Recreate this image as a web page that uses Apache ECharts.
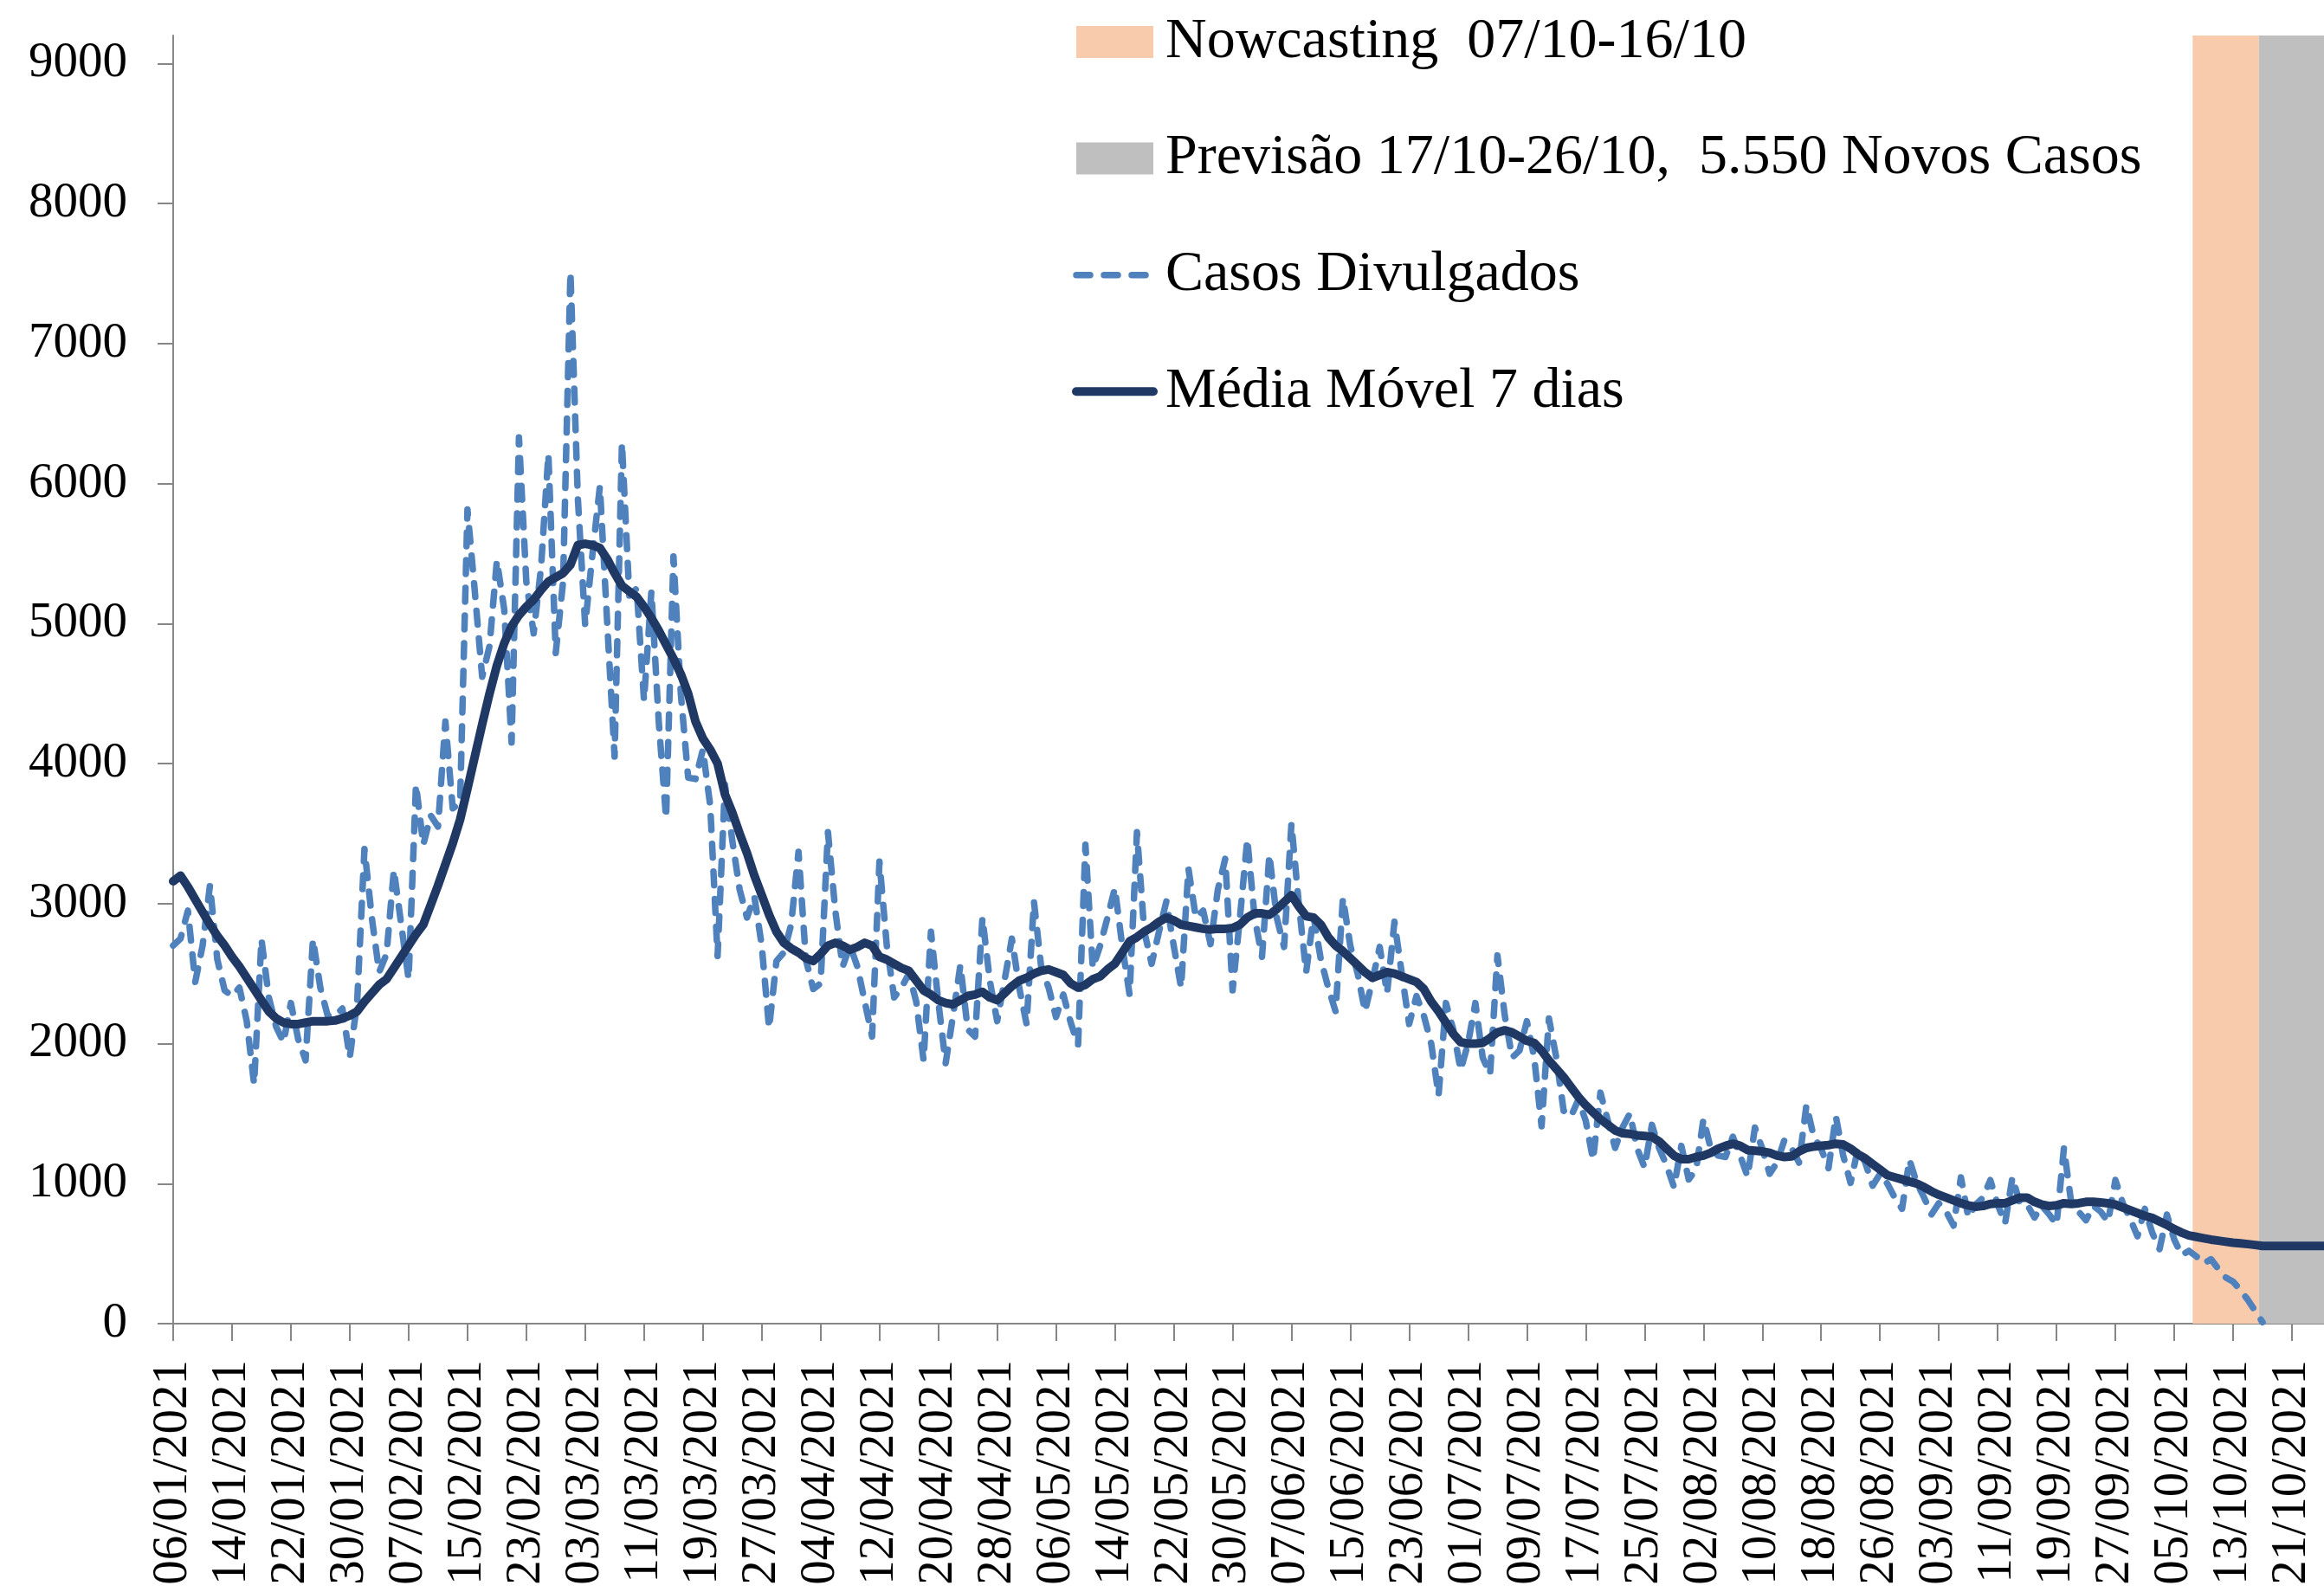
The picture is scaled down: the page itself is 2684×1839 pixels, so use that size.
<!DOCTYPE html>
<html>
<head>
<meta charset="utf-8">
<script src="https://cdn.jsdelivr.net/npm/echarts@6/dist/echarts.min.js"></script>
<style>
  html, body { margin: 0; padding: 0; background: #ffffff; overflow: hidden; }
  /* the plot runs on a little past the right edge of the window */
  #chart { width: 2698px; height: 1839px; }
</style>
</head>
<body>
<div id="chart"></div>
<script>
// Tick labels of the date axis, one every 8 days starting 06/01/2021 (day index 0)
const tickLabels = [
  '06/01/2021', '14/01/2021', '22/01/2021', '30/01/2021', '07/02/2021', '15/02/2021',
  '23/02/2021', '03/03/2021', '11/03/2021', '19/03/2021', '27/03/2021', '04/04/2021',
  '12/04/2021', '20/04/2021', '28/04/2021', '06/05/2021', '14/05/2021', '22/05/2021',
  '30/05/2021', '07/06/2021', '15/06/2021', '23/06/2021', '01/07/2021', '09/07/2021',
  '17/07/2021', '25/07/2021', '02/08/2021', '10/08/2021', '18/08/2021', '26/08/2021',
  '03/09/2021', '11/09/2021', '19/09/2021', '27/09/2021', '05/10/2021', '13/10/2021',
  '21/10/2021'
];

const yTicks = [0, 1000, 2000, 3000, 4000, 5000, 6000, 7000, 8000, 9000];

// Daily reported cases, 06/01/2021 .. 17/10/2021 (the last days are nowcast)
const casosDivulgados = [
  2700, 2750, 2950, 2440, 2700, 3130, 2600, 2380, 2340, 2400,
  2160, 1710, 2745, 2330, 2120, 2010, 2290, 2030, 1880, 2745,
  2400, 2200, 2200, 2250, 1900, 2290, 3390, 2900, 2510, 2640,
  3240, 2850, 2460, 3850, 3420, 3630, 3550, 4300, 3680, 3720,
  5815, 5230, 4620, 4840, 5450, 5100, 4150, 6330, 5300, 4930,
  5400, 6210, 4790, 5300, 7510, 5900, 4990, 5500, 5980, 5000,
  4050, 6290, 5200, 5250, 4450, 5230, 4300, 3610, 5480, 4500,
  3900, 3890, 4100, 3700, 2625, 3850, 3450, 3100, 2900, 3050,
  2700, 2110, 2590, 2650, 2850, 3370, 2600, 2390, 2430, 3510,
  2950, 2550, 2700, 2550, 2300, 2050, 3300, 2700, 2330, 2400,
  2500, 2300, 1880, 2800, 2300, 1860, 2200, 2560, 2100, 2050,
  2900, 2450, 2160, 2450, 2750, 2400, 2140, 3015, 2540, 2400,
  2190, 2350, 2150, 1990, 3420, 2540, 2700, 2900, 3110, 2700,
  2350, 3510, 2800, 2570, 2800, 3015, 2700, 2400, 3250, 2900,
  2950, 2710, 3100, 3320, 2380, 2900, 3460, 2900, 2620, 3350,
  2900, 2690, 3570, 3000, 2510, 2910, 2600, 2400, 2230, 3040,
  2700, 2500, 2230, 2450, 2690, 2360, 2870, 2500, 2140, 2340,
  2200, 2000, 1630, 2290, 2100, 1810, 2000, 2290, 1900, 1780,
  2630, 2200, 1900, 1950, 2160, 1900, 1410, 2180, 1900, 1520,
  1480, 1600, 1450, 1170, 1650, 1450, 1255, 1400, 1500, 1250,
  1115, 1420, 1250, 1130, 975, 1270, 1030, 1100, 1460, 1250,
  1200, 1190, 1335, 1200, 1050, 1400, 1250, 1070, 1150, 1310,
  1250, 1150, 1560, 1335, 1250, 1110, 1480, 1200, 1005, 1250,
  1150, 985, 1070, 1000, 900, 820, 1170, 1005, 900, 780,
  860, 800, 700, 1045, 760, 850, 900, 1025, 850, 715,
  1045, 860, 850, 758, 841, 780, 707, 1253, 861, 800,
  738, 841, 800, 727, 1026, 861, 750, 624, 820, 650,
  532, 779, 600, 490, 520, 480, 430, 460, 390, 330,
  300, 240, 170, 90, 10
];

// 7-day moving average, 06/01/2021 .. 26/10/2021 (last ten days: forecast of 5.550 cases)
const mediaMovel7 = [
  3160, 3200, 3120, 3030, 2940, 2850, 2770, 2700, 2620, 2550,
  2470, 2390, 2310, 2230, 2180, 2150, 2140, 2140, 2150, 2160,
  2160, 2160, 2165, 2180, 2200, 2230, 2300, 2360, 2420, 2460,
  2540, 2620, 2700, 2780, 2850, 2990, 3130, 3280, 3430, 3600,
  3820, 4050, 4280, 4500, 4700, 4860, 4980, 5060, 5120, 5170,
  5240, 5300, 5330, 5360, 5420, 5560, 5570, 5560, 5540, 5460,
  5360, 5270, 5230, 5190, 5120, 5040, 4950, 4850, 4750, 4640,
  4500, 4300, 4180, 4100, 4000, 3780, 3650, 3500, 3360, 3200,
  3060, 2920, 2800, 2720, 2680, 2650, 2610, 2590, 2640, 2700,
  2720, 2700, 2670, 2690, 2720, 2700, 2620, 2600, 2570, 2540,
  2520, 2450, 2380, 2350, 2310, 2290, 2280, 2310, 2340, 2350,
  2370, 2330, 2310, 2360, 2410, 2450, 2470, 2500, 2520, 2530,
  2510, 2490, 2430, 2400, 2420, 2460, 2480, 2530, 2570, 2650,
  2730, 2760, 2800, 2830, 2870, 2900, 2880, 2850, 2840, 2830,
  2820, 2815, 2820, 2820, 2825, 2850, 2900, 2930, 2930, 2920,
  2960, 3010, 3060, 2980, 2910, 2900, 2850, 2760, 2700, 2660,
  2610, 2560, 2510, 2470, 2490, 2510, 2500, 2480, 2460, 2440,
  2390, 2300, 2230, 2150, 2070, 2010, 2000, 2000, 2005, 2040,
  2080, 2095, 2080, 2050, 2020, 2005, 1950, 1880, 1820, 1760,
  1690, 1620, 1560, 1510, 1460, 1420, 1380, 1360, 1355, 1345,
  1340, 1335, 1300, 1250, 1200, 1175, 1175, 1190, 1200, 1220,
  1250, 1270, 1285, 1270, 1240, 1235, 1230, 1220, 1200, 1190,
  1195, 1230, 1255, 1265, 1270, 1275, 1285, 1280, 1250, 1210,
  1180, 1140, 1100, 1060, 1045, 1030, 1015, 1000, 975, 945,
  920, 900, 880, 860, 845, 835, 840, 855, 860, 860,
  880, 900, 900, 870, 850, 840, 845, 860, 855, 860,
  870, 870, 865, 860, 850, 830, 810, 790, 770, 755,
  730, 705, 675, 650, 630, 620, 610, 600, 593, 585,
  578, 573, 568, 562, 555, 555, 555, 555, 555, 555,
  555, 555, 555, 555
];

// Shaded periods on the day axis
const faixaNowcasting = [274.5, 283.5];
const faixaPrevisao = [283.5, 293.5];

const nomes = {
  nowcasting: 'Nowcasting  07/10-16/10',
  previsao: 'Previsão 17/10-26/10,  5.550 Novos Casos',
  casos: 'Casos Divulgados',
  media: 'Média Móvel 7 dias'
};

const cores = {
  nowcasting: '#F8CBAD',
  previsao: '#BFBFBF',
  casos: '#4F81BD',
  media: '#1F3864',
  eixo: '#868686'
};

const fonte = '"Liberation Serif", "Times New Roman", serif';

const estiloCasos = { color: cores.casos, width: 7.5, type: [16, 16], cap: 'round', join: 'round' };
const estiloMedia = { color: cores.media, width: 10, type: 'solid', cap: 'round', join: 'round' };

const toPairs = arr => arr.map((v, i) => [i, v]);

const chart = echarts.init(document.getElementById('chart'), null, { renderer: 'canvas' });

chart.setOption({
  animation: false,
  backgroundColor: '#ffffff',
  grid: { left: 200, right: 0, top: 41, bottom: 310, containLabel: false },
  legend: {
    orient: 'vertical',
    left: 1238,
    top: 15.5,
    padding: 0,
    itemWidth: 89,
    itemHeight: 37,
    itemGap: 68.6,
    selectedMode: false,
    textStyle: { fontFamily: fonte, fontSize: 66, color: '#000000', lineHeight: 37, padding: [0, 0, 0, 9] },
    data: [
      { name: nomes.nowcasting, icon: 'rect', itemStyle: { color: cores.nowcasting, borderWidth: 0 } },
      { name: nomes.previsao, icon: 'rect', itemStyle: { color: cores.previsao, borderWidth: 0 } },
      { name: nomes.casos, itemStyle: { opacity: 0 }, lineStyle: estiloCasos },
      { name: nomes.media, itemStyle: { opacity: 0 }, lineStyle: estiloMedia }
    ]
  },
  xAxis: {
    type: 'value',
    min: 0,
    max: 294,
    interval: 8,
    splitLine: { show: false },
    axisLine: { show: true, lineStyle: { color: cores.eixo, width: 2 } },
    axisTick: { show: true, length: 20, lineStyle: { color: cores.eixo, width: 2 } },
    axisLabel: {
      rotate: 90,
      margin: 42,
      padding: [12, 0, 0, 0],
      fontFamily: fonte,
      fontSize: 57,
      color: '#000000',
      showMaxLabel: false,
      formatter: v => (v % 8 === 0 && tickLabels[v / 8]) ? tickLabels[v / 8] : ''
    }
  },
  yAxis: {
    type: 'value',
    min: 0,
    max: 9200,
    interval: 1000,
    splitLine: { show: false },
    axisLine: { show: true, lineStyle: { color: cores.eixo, width: 2 } },
    axisTick: { show: true, length: 18, customValues: yTicks, lineStyle: { color: cores.eixo, width: 2 } },
    axisLabel: {
      margin: 53,
      fontFamily: fonte,
      fontSize: 57,
      color: '#000000',
      customValues: yTicks,
      formatter: v => String(v)
    }
  },
  series: [
    {
      name: nomes.nowcasting,
      type: 'line',
      data: [],
      color: cores.nowcasting,
      markArea: {
        silent: true,
        itemStyle: { color: cores.nowcasting, opacity: 1 },
        data: [[{ xAxis: faixaNowcasting[0] }, { xAxis: faixaNowcasting[1] }]]
      }
    },
    {
      name: nomes.previsao,
      type: 'line',
      data: [],
      color: cores.previsao,
      markArea: {
        silent: true,
        itemStyle: { color: cores.previsao, opacity: 1 },
        data: [[{ xAxis: faixaPrevisao[0] }, { xAxis: faixaPrevisao[1] }]]
      }
    },
    {
      name: nomes.casos,
      type: 'line',
      data: toPairs(casosDivulgados),
      showSymbol: false,
      symbol: 'none',
      color: cores.casos,
      lineStyle: estiloCasos,
      z: 3
    },
    {
      name: nomes.media,
      type: 'line',
      data: toPairs(mediaMovel7),
      showSymbol: false,
      symbol: 'none',
      color: cores.media,
      lineStyle: estiloMedia,
      z: 4
    }
  ]
});
</script>
</body>
</html>
